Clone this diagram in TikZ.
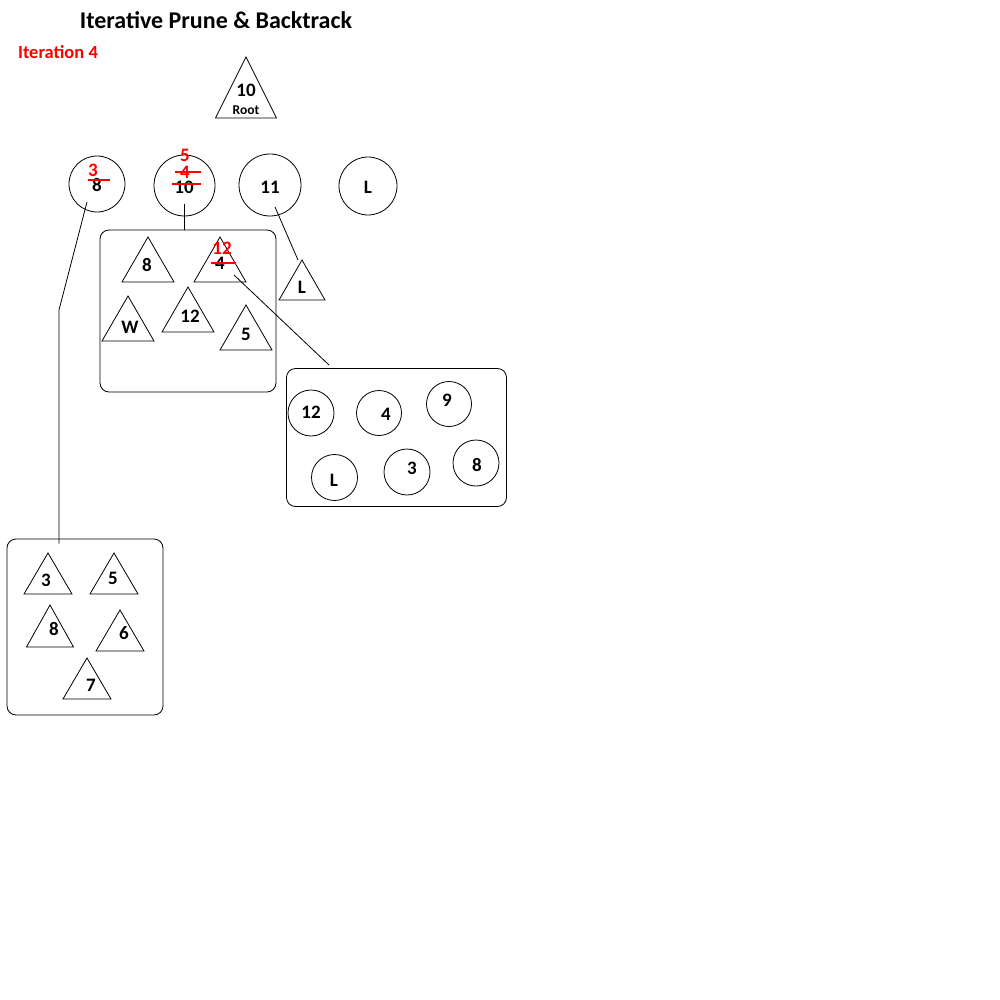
\documentclass[tikz,border=0pt]{standalone}
\usepackage{fontspec}
\setmainfont{Carlito}
\usetikzlibrary{calc}
\begin{document}
\begin{tikzpicture}[x=1pt,y=-1pt, line width=0.8pt,
  lbl/.style={font=\bfseries\fontsize{19}{21}\selectfont, inner sep=0pt},
  redlbl/.style={lbl, text=red},
  circ/.style={draw, circle, minimum size=#1, inner sep=0pt},
  boxnode/.style={draw, rounded corners=9pt, inner sep=0pt},
  strikethin/.style={red, line width=1.2pt},
  strikethick/.style={red, line width=2.6pt},
]
\newcommand\tri[5]{\draw (#2,#3) -- ++(-#4,#5) -- ++(2*#4,0) -- cycle; \coordinate (#1) at (#2,#3);}
\useasboundingbox[fill=white] (0,0) rectangle (1000,1000);

% title
\node[font=\bfseries\fontsize{24}{27}\selectfont, inner sep=0pt] (title) at (216,20) {Iterative Prune \& Backtrack};
\node[font=\bfseries\fontsize{18.5}{21}\selectfont, text=red, inner sep=0pt] (iter) at (58,52) {Iteration 4};

% root
\tri{root}{246}{57}{30.5}{61}
\node[lbl] (roottxt) at (246,90) {10};
\node[font=\bfseries\fontsize{13.5}{15}\selectfont, inner sep=0pt] (rootlbl) at (246,110) {Root};

% top circles
\node[circ=56pt] (c8) at (97,184) {};
\node[lbl] (c8t) at (97,185) {8};
\node[redlbl] (c8r) at (93,170) {3};
\draw[strikethin] (88,180) -- (110,180);

\node[circ=61pt] (c10) at (184.5,185.5) {};
\node[redlbl] (c10r5) at (185,155) {5};
\node[redlbl] (c10r4) at (185,172) {4};
\draw[strikethick] ($(c10r4)+(-10,0)$) -- ($(c10r4)+(16,0)$);
\node[lbl] (c10t) at (184,187) {10};
\draw[strikethin] ($(c10t)+(-12,-3)$) -- ($(c10t)+(17,-3)$);

\node[circ=62pt] (c11) at (270,185) {};
\node[lbl] (c11t) at (270,187) {11};

\node[circ=58pt] (cL) at (368,186) {};
\node[lbl] (cLt) at (368,187) {L};

% L triangle
\tri{tL}{302}{260}{23}{40}
\node[lbl] (tLt) at (302,287) {L};

% box 1
\node[boxnode, minimum width=176pt, minimum height=162pt] (b1) at (188,311) {};
\tri{t8}{148}{237}{26}{45}
\node[lbl] (t8t) at (147,265) {8};
\tri{t4}{220}{237}{26}{45}
\node[lbl] (t4t) at (220,263) {4};
\node[redlbl] (t4r) at (222,248) {12};
\draw[strikethick] ($(t4t)+(-9,0)$) -- ($(t4t)+(16,0)$);
\tri{tW}{128}{296}{26}{45}
\node[lbl] (tWt) at (130,327) {W};
\tri{t12}{188}{287}{26}{45}
\node[lbl] (t12t) at (190,316) {12};
\tri{t5}{246}{305}{26}{45}
\node[lbl] (t5t) at (246,334) {5};

% box 2
\node[boxnode, minimum width=220pt, minimum height=138pt] (b2) at (396.5,437.5) {};
\node[circ=46pt] (d12) at (311,413) {};
\node[lbl] (d12t) at (311,412) {12};
\node[circ=45pt] (d4) at (379,413) {};
\node[lbl] (d4t) at (386,414) {4};
\node[circ=45pt] (d9) at (449,404) {};
\node[lbl] (d9t) at (447,400) {9};
\node[circ=46pt] (dL) at (334.5,477.5) {};
\node[lbl] (dLt) at (334,480) {L};
\node[circ=46pt] (d3) at (407,472) {};
\node[lbl] (d3t) at (412,468) {3};
\node[circ=46pt] (d8) at (476,463) {};
\node[lbl] (d8t) at (477,465) {8};

% box 3
\node[boxnode, minimum width=156pt, minimum height=176pt] (b3) at (85,627) {};
\tri{e3}{48}{553}{24}{41}
\node[lbl] (e3t) at (46,580) {3};
\tri{e5}{114}{553}{24}{41}
\node[lbl] (e5t) at (113,578) {5};
\tri{e8}{50}{605}{23.5}{42}
\node[lbl] (e8t) at (54,629) {8};
\tri{e6}{120}{610}{24}{41}
\node[lbl] (e6t) at (124,633) {6};
\tri{e7}{87}{658}{24}{41}
\node[lbl] (e7t) at (91,685) {7};

% connectors
\coordinate (k1) at (59,310);
\draw ($(c8)+(-10,18)$) -- (k1) -- ($(k1 |- b3.north)+(0,5)$);
\draw ($(c10)+(0,19)$) -- (c10 |- b1.north);
\draw ($(c11)+(5,22)$) -- ($(tL)+(-4,0)$);
\draw ($(t4)+(14,38)$) -- ($(b2.north west)+(43,-3)$);
\end{tikzpicture}
\end{document}
